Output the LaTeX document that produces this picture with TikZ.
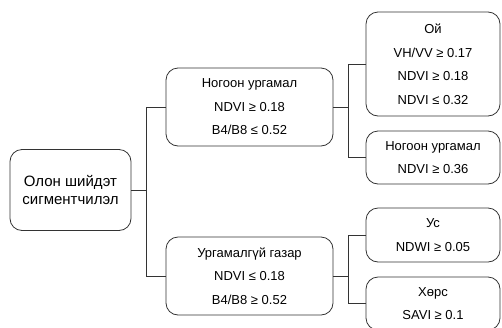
\documentclass[tikz,border=0pt]{standalone}
\usepackage{fontspec}
\setmainfont{Liberation Sans}
\tikzset{
  box/.style={draw=black!80, line width=0.8pt, rounded corners=12pt, align=center, inner sep=0pt, font=\fontsize{13}{23.5}\selectfont},
  wire/.style={draw=black!80, line width=0.8pt}
}
\begin{document}
\begin{tikzpicture}[x=1pt, y=-1pt]
\useasboundingbox (0,0) rectangle (502,327);
\node[box, minimum width=121pt, minimum height=81pt, font=\fontsize{15}{18.5}\selectfont] (root) at (70.5,190) {Олон шийдэт\\сигментчилэл};
\node[box, minimum width=167pt, minimum height=78pt] (veg) at (249.5,107) {Ногоон ургамал\\NDVI ≥ 0.18\\B4/B8 ≤ 0.52};
\node[box, minimum width=167pt, minimum height=78pt] (noveg) at (249.5,276) {Ургамалгүй газар\\NDVI ≤ 0.18\\B4/B8 ≥ 0.52};
\node[box, minimum width=134pt, minimum height=104pt] (forest) at (433,64) {Ой\\VH/VV ≥ 0.17\\NDVI ≥ 0.18\\NDVI ≤ 0.32};
\node[box, minimum width=134pt, minimum height=53pt] (green) at (433,157.5) {Ногоон ургамал\\NDVI ≥ 0.36};
\node[box, minimum width=134pt, minimum height=54pt] (water) at (433,235) {Ус\\NDWI ≥ 0.05};
\node[box, minimum width=134pt, minimum height=53pt] (soil) at (433,303.5) {Хөрс\\SAVI ≥ 0.1};
% branch points
\coordinate (b0) at (146,190);
\coordinate (b1) at (348,107);
\coordinate (b2) at (348,276);
\draw[wire] (root.east) -- (b0);
\draw[wire] (b0) |- (veg.west);
\draw[wire] (b0) |- (noveg.west);
\draw[wire] (veg.east) -- (b1);
\draw[wire] (b1) |- (forest.west);
\draw[wire] (b1) |- (green.west);
\draw[wire] (noveg.east) -- (b2);
\draw[wire] (b2) |- (water.west);
\draw[wire] (b2) |- (soil.west);
\end{tikzpicture}
\end{document}
